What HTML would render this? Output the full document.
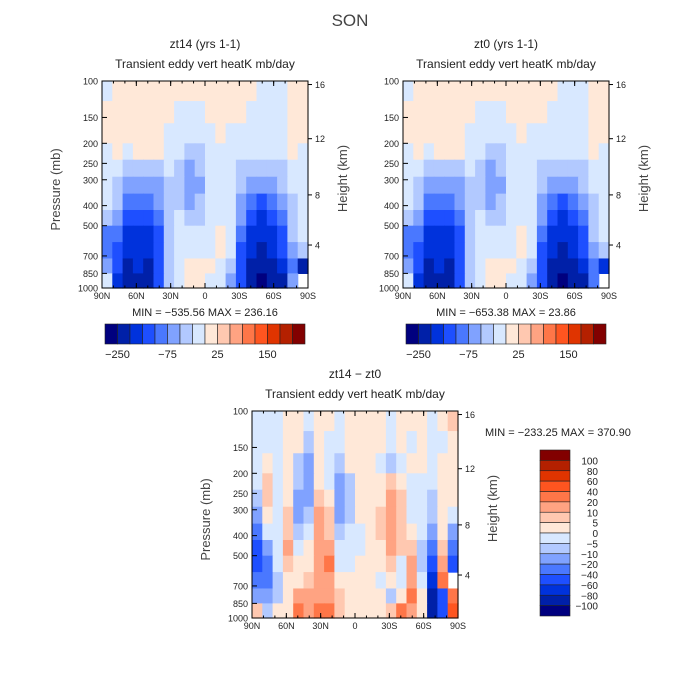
<!DOCTYPE html>
<html><head><meta charset="utf-8">
<style>
body{margin:0;background:#fff;}
svg{display:block;font-family:"Liberation Sans",sans-serif;}
</style></head>
<body>
<svg id="chart" width="700" height="700" viewBox="0 0 700 700">
<text x="350" y="26" text-anchor="middle" font-size="17" fill="#444">SON</text>
</svg>
<script>
// ---------- data ----------
const latLabels = ["90N","60N","30N","0","30S","60S","90S"];
const pressureTicks = [100,150,200,250,300,400,500,700,850,1000];
const heightTicks = [16,12,8,4];
const heightTickPressure = [104,190,355,620];
const rowEdgesP = [100,125,160,200,240,290,350,420,500,600,720,850,1000];
const levelsTop = [-250,-200,-150,-100,-75,-50,-25,0,25,50,75,100,150,200,250];
const levelsTopLabels = ["-250","-75","25","150"];
const levelsDiff = [-100,-80,-60,-40,-20,-10,-5,0,5,10,20,40,60,80,100];
const colors = ["#00007f","#0020a8","#0032dc","#1e4fff","#4a78ff","#80a2ff","#b2c9ff","#d8e8ff","#ffe8d8","#ffc8b0","#ffa382","#ff7648","#ff5520","#e03400","#b42000","#820000"];
const gridZt14 = [
[-10,10,10,10,10,10,10,10,10,10,10,10,10,10,10,-10,-10,-10,10,10],
[10,10,10,10,10,10,10,-10,-10,-10,10,10,10,10,-10,-10,-10,-10,10,10],
[10,10,10,10,10,10,-10,-10,-10,-10,-10,10,-10,-10,-10,-10,-10,-10,10,10],
[-10,10,-10,10,10,10,-10,-10,-40,-40,-10,-10,-10,-10,-10,-10,-10,-10,10,-10],
[-10,-10,-40,-40,-40,-40,-10,-40,-60,-40,-10,-10,-10,-40,-40,-40,-40,-40,-10,-10],
[-10,-40,-60,-60,-60,-60,-40,-40,-60,-60,-10,-10,-10,-40,-60,-60,-60,-40,-10,-10],
[-10,-40,-90,-90,-90,-60,-40,-40,-60,-40,-10,-10,-10,-60,-90,-120,-90,-60,-40,-10],
[-40,-60,-120,-120,-120,-90,-40,-10,-40,-40,-10,-10,-10,-60,-120,-170,-120,-90,-40,-10],
[-90,-90,-170,-170,-170,-120,-40,-10,-10,-10,-10,10,-10,-90,-170,-170,-170,-120,-40,-10],
[-90,-120,-170,-170,-170,-120,-40,-10,-10,-10,-10,10,-10,-120,-170,-220,-170,-120,-60,-40],
[-60,-120,-220,-170,-220,-120,-40,-10,10,10,10,-10,-40,-120,-220,-220,-220,-170,-90,-220],
[-10,-170,-220,-220,-220,-120,-40,-10,10,10,-10,-10,-60,-120,-220,-280,-220,-220,-60,null]
];
const gridZt0 = [
[-10,10,10,10,10,10,10,10,10,10,10,10,10,10,10,-10,-10,-10,10,10],
[10,10,10,10,10,10,10,-10,-10,-10,10,10,10,10,-10,-10,-10,-10,10,10],
[10,10,10,10,10,10,-10,-10,-10,-10,-10,10,-10,-10,-10,-10,-10,-10,10,10],
[-10,10,-10,10,10,10,-10,-10,-40,-40,-10,-10,-10,-10,-10,-10,-10,-10,10,-10],
[-10,-10,-40,-40,-40,-40,-10,-40,-60,-40,-10,-10,-10,-40,-40,-40,-40,-40,-10,-10],
[-10,-40,-60,-60,-60,-60,-40,-40,-60,-60,-10,-10,-10,-40,-60,-60,-60,-40,-10,-10],
[-10,-40,-90,-90,-90,-60,-40,-40,-60,-40,-10,-10,-10,-60,-90,-120,-90,-60,-40,-10],
[-40,-60,-120,-120,-120,-90,-40,-10,-40,-40,-10,-10,-10,-60,-120,-170,-120,-90,-40,-10],
[-90,-90,-170,-170,-170,-120,-40,-10,-10,-10,-10,10,-10,-90,-170,-170,-170,-120,-40,-10],
[-90,-120,-170,-170,-170,-120,-40,-10,-10,-10,-10,10,-10,-120,-170,-220,-170,-120,-60,-40],
[-60,-120,-220,-170,-220,-120,-40,-10,10,10,10,-10,-40,-120,-220,-220,-220,-170,-90,-170],
[-10,-170,-220,-220,-220,-120,-40,-10,10,10,-10,-10,-60,-120,-220,-280,-220,-220,-90,null]
];
const gridDiff = [
[-3,-3,-3,3,3,-3,3,3,-3,3,3,3,3,-3,3,3,3,-3,3,7],
[-3,-3,-3,3,3,-7,3,-3,-3,3,3,3,3,-3,3,-3,3,-3,-3,3],
[-3,3,-3,3,-7,-15,3,-3,-7,3,3,3,-3,-7,-3,3,3,-3,3,3],
[-3,7,-3,3,-7,-15,3,-3,-15,-7,3,3,3,7,3,-3,-3,-3,3,3],
[-7,7,-3,3,-15,-15,7,3,-15,-7,3,3,3,15,7,-3,-3,-7,3,3],
[-15,3,-3,7,-15,-7,15,7,-15,-7,3,3,7,15,7,-3,-3,-7,3,-3],
[-30,-3,-3,7,-7,-3,15,7,-7,-3,-3,3,7,15,7,3,-3,-15,3,-15],
[-50,-15,-3,15,-3,3,15,15,-3,-3,-3,3,3,15,7,7,-7,-30,7,-30],
[-50,-30,-3,7,3,3,15,30,-3,-3,3,3,3,7,-3,15,-7,-50,15,-50],
[-30,-30,-7,3,3,7,15,15,3,3,3,3,-3,3,-3,15,-3,-70,30,null],
[-15,-15,-7,3,15,15,15,15,7,3,3,3,3,-7,3,30,3,-90,-50,30],
[7,-7,3,3,30,15,30,30,7,3,3,3,3,7,30,15,3,-90,-50,50]
];
const diffBarLabels = ["100","80","60","40","20","10","5","0","-5","-10","-20","-40","-60","-80","-100"];

// ---------- drawing ----------
const NS="http://www.w3.org/2000/svg";
const svg=document.getElementById("chart");
function mk(tag,attrs,parent){const e=document.createElementNS(NS,tag);for(const k in attrs)e.setAttribute(k,attrs[k]);(parent||svg).appendChild(e);return e;}
function classOf(v,levels){let i=0;while(i<levels.length&&v>=levels[i])i++;return i;}

function panel(name,grid,levels,x0,y0,w,h,title,sub,showPressureTitle){
  const g=mk("g",{});
  
  
  const yOf=p=>y0+h*Math.log10(p/100);
  const nc=grid[0].length, cw=w/nc;
  const xOf=i=>x0+i*cw;
  grid.forEach((row,r)=>{
    row.forEach((v,c)=>{
      if(v===null)return;
      const rc=mk("rect",{x:xOf(c),y:yOf(rowEdgesP[r]),width:cw+0.6,height:yOf(rowEdgesP[r+1])-yOf(rowEdgesP[r])+0.6,fill:colors[classOf(v,levels)]},g);
      
      
    });
  });
  const fr=mk("rect",{x:x0,y:y0,width:w,height:h,fill:"none",stroke:"#000","stroke-width":1},g);
  
  
  latLabels.forEach((l,i)=>{
    const x=x0+w*i/(latLabels.length-1);
    mk("line",{x1:x,x2:x,y1:y0+h,y2:y0+h-5,stroke:"#000"},g);
    mk("line",{x1:x,x2:x,y1:y0,y2:y0+5,stroke:"#000"},g);
    const t=mk("text",{x:x,y:y0+h+11,"font-size":9,"text-anchor":"middle",fill:"#222"},g);t.textContent=l;
    
    
  });
  for(let i=0;i<=18;i++){const x=x0+w*i/18;mk("line",{x1:x,x2:x,y1:y0+h,y2:y0+h-2.5,stroke:"#000"},g);mk("line",{x1:x,x2:x,y1:y0,y2:y0+2.5,stroke:"#000"},g);}
  pressureTicks.forEach(p=>{
    const y=yOf(p);
    mk("line",{x1:x0,x2:x0+5,y1:y,y2:y,stroke:"#000"},g);
    const t=mk("text",{x:x0-4,y:y+3.5,"font-size":9,"text-anchor":"end",fill:"#222"},g);t.textContent=p;
    
    
  });
  heightTicks.forEach((k,i)=>{
    const y=yOf(heightTickPressure[i]);
    mk("line",{x1:x0+w,x2:x0+w+4,y1:y,y2:y,stroke:"#000"},g);
    const t=mk("text",{x:x0+w+7,y:y+3.5,"font-size":9,fill:"#222"},g);t.textContent=k;
    
    
  });
  if(showPressureTitle){
    const yl=mk("text",{x:0,y:0,"font-size":13,"text-anchor":"middle",fill:"#444",transform:`translate(${x0-42},${y0+h/2+5}) rotate(-90)`},g);yl.textContent="Pressure (mb)";
    
    
  }
  const yr=mk("text",{x:0,y:0,"font-size":13,"text-anchor":"middle",fill:"#444",transform:`translate(${x0+w+39},${y0+h/2-6}) rotate(-90)`},g);yr.textContent="Height (km)";
  
  
  const t1=mk("text",{x:x0+w/2,y:y0-33,"font-size":12,"text-anchor":"middle",fill:"#222"},g);t1.textContent=title;
  
  
  const t2=mk("text",{x:x0+w/2,y:y0-13,"font-size":12,"text-anchor":"middle",fill:"#222"},g);t2.textContent=sub;
  
  
}

panel("zt14",gridZt14,levelsTop,102,81,206,207,"zt14 (yrs 1-1)","Transient eddy vert heatK mb/day",true);
panel("zt0",gridZt0,levelsTop,403,81,206,207,"zt0 (yrs 1-1)","Transient eddy vert heatK mb/day",false);
panel("diff",gridDiff,levelsDiff,252,411,206,207,"zt14 − zt0","Transient eddy vert heatK mb/day",true);

function minmax(x,y,txt,anchor){const t=mk("text",{x:x,y:y,"font-size":11,"text-anchor":anchor,fill:"#222"});t.textContent=txt;
  
  }
minmax(205,316,"MIN = −535.56   MAX = 236.16","middle");
minmax(506,316,"MIN = −653.38   MAX =  23.86","middle");
minmax(485,436,"MIN = −233.25   MAX = 370.90","start");

function hbar(x0,y0,name){
  const g=mk("g",{});
  
  
  const bw=200/16;
  colors.forEach((c,i)=>{const r=mk("rect",{x:x0+i*bw,y:y0,width:bw,height:20,fill:c,stroke:"#222","stroke-width":0.6},g);
    
    });
  const idx=[1,5,9,13];
  levelsTopLabels.forEach((l,i)=>{const t=mk("text",{x:x0+idx[i]*bw,y:y0+34,"font-size":11,"text-anchor":"middle",fill:"#222"},g);t.textContent=l.replace("-","−");
    
    });
}
hbar(105,324,"colorbar-zt14");
hbar(406,324,"colorbar-zt0");

(function(){
  const g=mk("g",{});
  
  
  const x0=540,y0=450,bh=166/16;
  colors.slice().reverse().forEach((c,i)=>{const r=mk("rect",{x:x0,y:y0+i*bh,width:30,height:bh,fill:c,stroke:"#222","stroke-width":0.6},g);
    
    });
  diffBarLabels.forEach((l,i)=>{const t=mk("text",{x:598,y:y0+(i+1)*bh+4,"font-size":10,"text-anchor":"end",fill:"#222"},g);t.textContent=l.replace("-","−");
    
    });
})();
</script>
</body></html>
